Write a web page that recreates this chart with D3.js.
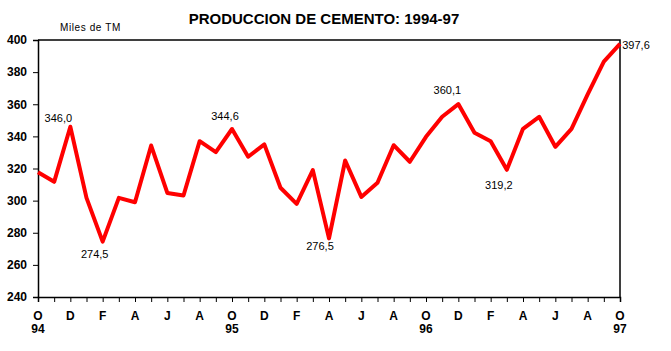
<!DOCTYPE html>
<html>
<head>
<meta charset="utf-8">
<script src="https://cdn.jsdelivr.net/npm/d3@7"></script>
<style>
  body { margin: 0; background: #fff; }
  svg { display: block; font-family: "Liberation Sans", Arial, sans-serif; }
</style>
</head>
<body>
<div id="chart"></div>
<script>
// monthly production, Oct 94 .. Oct 97 (thousand TM)
const values = [
  317.7, 311.7, 346.0, 301.7, 274.5, 301.7, 299.0, 334.3, 304.8, 303.2, 337.0, 330.2,
  344.6, 327.3, 335.0, 308.0, 298.0, 319.0, 276.5, 325.0, 302.3, 311.1, 334.5, 324.2,
  339.7, 352.2, 360.1, 342.2, 337.0, 319.2, 344.7, 352.2, 333.5, 344.7, 366.1, 386.5,
  397.6
];
const monthLabels = ['O','','D','','F','','A','','J','','A',''];
const yearLabels = { 0: '94', 12: '95', 24: '96', 36: '97' };
const yTicks = [240, 260, 280, 300, 320, 340, 360, 380, 400];
// annotated points and where the label sits relative to the point
const notes = [
  { i: 2,  dx: -12, dy: -5 },
  { i: 4,  dx: -8,  dy: 16 },
  { i: 12, dx: -7,  dy: -9 },
  { i: 18, dx: -9,  dy: 12 },
  { i: 26, dx: -11, dy: -10 },
  { i: 29, dx: -8,  dy: 19 },
  { i: 36, dx: 16,  dy: 5 },
];

const W = 671, H = 351;
const m = { left: 38, right: 51, top: 40, bottom: 54 };

const svg = d3.select('#chart').append('svg')
  .attr('width', W).attr('height', H);

const x = d3.scaleLinear().domain([0, values.length - 1]).range([m.left, W - m.right]);
const y = d3.scaleLinear().domain([240, 400]).range([H - m.bottom, m.top]);

// title
svg.append('text')
  .attr('x', 324).attr('y', 24)
  .attr('text-anchor', 'middle')
  .attr('font-size', 15).attr('font-weight', 'bold')
  .text('PRODUCCION DE CEMENTO: 1994-97');

svg.append('text')
  .attr('x', 60).attr('y', 31)
  .attr('font-size', 10).attr('letter-spacing', 0.6)
  .text('Miles de TM');

// y axis
const yAxis = svg.append('g')
  .attr('transform', `translate(${m.left},0)`)
  .call(d3.axisLeft(y).tickValues(yTicks).tickSize(5).tickPadding(6));
yAxis.select('.domain').attr('stroke', '#000').attr('stroke-width', 1.5);
yAxis.selectAll('text')
  .attr('font-size', 12).attr('font-weight', 'bold')
  .attr('fill', '#000');

// x axis
const xAxis = svg.append('g')
  .attr('transform', `translate(0,${H - m.bottom})`)
  .call(d3.axisBottom(x).tickValues(d3.range(values.length)).tickSize(5).tickFormat(''));
xAxis.select('.domain').attr('stroke', '#000').attr('stroke-width', 1.5);

const lab = svg.append('g')
  .attr('font-size', 12).attr('font-weight', 'bold')
  .attr('text-anchor', 'middle');
d3.range(values.length).forEach(i => {
  const t = monthLabels[i % 12];
  if (t) lab.append('text').attr('x', x(i)).attr('y', 320).text(t);
  if (yearLabels[i]) lab.append('text').attr('x', x(i)).attr('y', 333).text(yearLabels[i]);
});

// top and right frame
svg.append('path')
  .attr('d', `M${m.left},${m.top}H${W - m.right}V${H - m.bottom}`)
  .attr('fill', 'none').attr('stroke', '#000').attr('stroke-width', 1.5);

// line
const line = d3.line().x((d, i) => x(i)).y(d => y(d));
svg.append('path')
  .datum(values)
  .attr('d', line)
  .attr('fill', 'none')
  .attr('stroke', '#ff0000')
  .attr('stroke-width', 4)
  .attr('stroke-linejoin', 'round');

// value labels
const fmt = v => v.toFixed(1).replace('.', ',');
svg.append('g').attr('font-size', 11).attr('text-anchor', 'middle').selectAll('text')
  .data(notes)
  .join('text')
  .attr('x', d => x(d.i) + d.dx)
  .attr('y', d => y(values[d.i]) + d.dy)
  .text(d => fmt(values[d.i]));
</script>
</body>
</html>
